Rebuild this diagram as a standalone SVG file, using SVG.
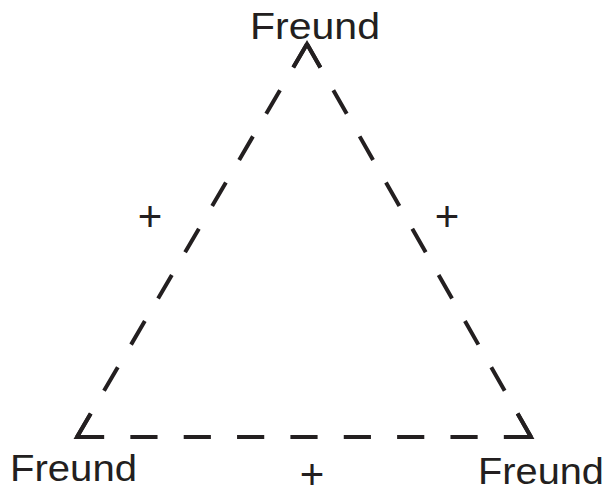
<svg xmlns="http://www.w3.org/2000/svg" width="610" height="493" viewBox="0 0 610 493">
<style>
.lbl{font-family:"Liberation Sans",Arial,sans-serif;font-size:36px;fill:#231f20}
.plus{font-family:"Liberation Sans",Arial,sans-serif;font-size:42px;fill:#231f20;text-anchor:middle}
.edge{fill:none;stroke:#231f20;stroke-width:4;stroke-dasharray:27 26}
.corner{fill:none;stroke:#231f20;stroke-width:4;stroke-linejoin:miter;stroke-miterlimit:10}
</style>
<rect width="610" height="493" fill="#fff"/>
<g id="connectors">
<path class="edge" d="M307,44 L77,437" pathLength="451"/>
<path class="edge" d="M307,44 L531,437" pathLength="451"/>
<path class="edge" d="M77,437 L531,437" pathLength="451"/>
<path class="corner" d="M293.4,67.3 L307,44 L320.4,67.5"/>
<path class="corner" d="M90.6,413.7 L77,437 L104,437"/>
<path class="corner" d="M517.6,413.5 L531,437 L504,437"/>
</g>
<g id="node-top"><text class="lbl" x="250" y="39" textLength="130" lengthAdjust="spacingAndGlyphs">Freund</text></g>
<g id="node-left"><text class="lbl" x="10" y="481" textLength="127" lengthAdjust="spacingAndGlyphs">Freund</text></g>
<g id="node-right"><text class="lbl" x="478" y="484" textLength="126" lengthAdjust="spacingAndGlyphs">Freund</text></g>
<g id="edge-labels">
<text class="plus" x="150" y="231">+</text>
<text class="plus" x="447" y="231">+</text>
<text class="plus" x="312" y="489">+</text>
</g>
</svg>
